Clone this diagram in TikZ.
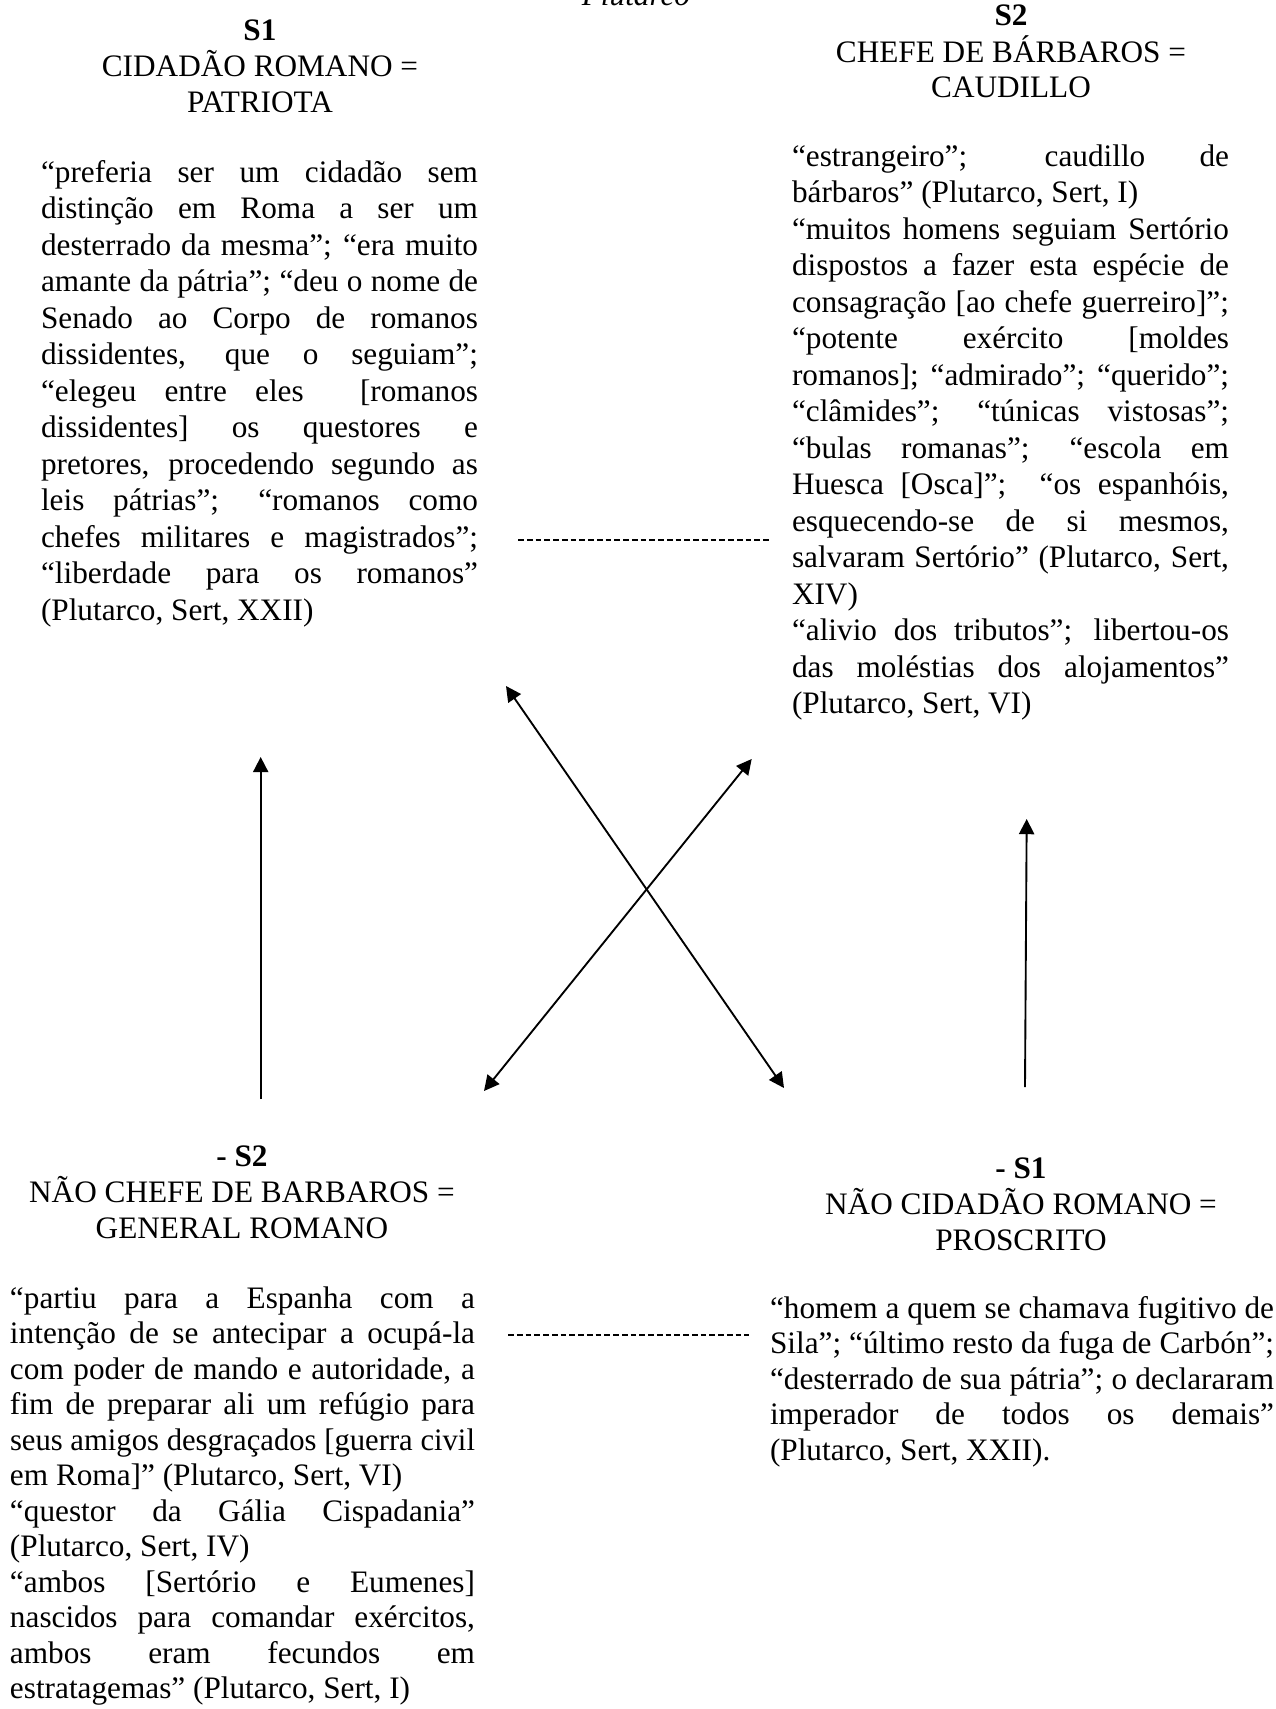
\documentclass[tikz,border=0pt]{standalone}
\usepackage{fontspec}
\setmainfont{Liberation Serif}
\usepackage{graphicx}
\usetikzlibrary{arrows.meta}
\newlength\bw
\newcommand\jl[1]{\setbox0\hbox{#1}\ifdim\wd0>\bw\resizebox{\bw}{\height}{#1}\else\makebox[\bw][s]{#1}\fi}
\newcommand\lastl[1]{\makebox[\bw][l]{#1}}
\newcommand\blk[2]{\setlength\bw{#1}\begin{tabular}[t]{@{}l@{}}#2\end{tabular}}
\newcommand\hdr[3]{\begin{tabular}[t]{@{}c@{}}\textbf{#1}\\#2\\#3\end{tabular}}
\tikzset{
  txt/.style={font=\fontsize{15}{17.04}\selectfont, inner sep=0pt, outer sep=0pt},
  body/.style={txt, anchor=base west},
  topbody/.style={body, font=\fontsize{15}{17.52}\selectfont},
  hd/.style={txt, anchor=base},
  arr/.style={line width=0.9pt, -{Triangle[length=7.3pt,width=7.3pt]}},
  dualarr/.style={line width=0.9pt, {Triangle[length=7.3pt,width=7.3pt]}-{Triangle[length=7.3pt,width=7.3pt]}},
  dashline/.style={line width=0.5pt, dash pattern=on 2.8pt off 1.4pt}
}
\begin{document}
\begin{tikzpicture}[x=0.48pt,y=-0.48pt]
\useasboundingbox (0,0) rectangle (1275,1709);
\fill[white] (0,0) rectangle (1275,1709);
\clip (0,0) rectangle (1275,1709);

\node[txt, anchor=base] (plut) at (636,5) {\textit{Plutarco}};

% headers
\node[hd] (s1) at (260,40) {\hdr{S1}{CIDADÃO ROMANO =}{PATRIOTA}};
\node[hd] (s2) at (1011,25) {\hdr{S2}{CHEFE DE BÁRBAROS =}{CAUDILLO}};
\node[hd] (ns2) at (242,1166) {\hdr{- S2}{NÃO CHEFE DE BARBAROS =}{GENERAL ROMANO}};
\node[hd] (ns1) at (1021,1178) {\hdr{- S1}{NÃO CIDADÃO ROMANO =}{PROSCRITO}};

% top-left body
\node[topbody] (tl) at (41,182) {\blk{209.76pt}{%
\jl{“preferia ser um cidadão sem}\\
\jl{distinção em Roma a ser um}\\
\jl{desterrado da mesma”; “era muito}\\
\jl{amante da pátria”; “deu o nome de}\\
\jl{Senado ao Corpo de romanos}\\
\jl{dissidentes, que o seguiam”;}\\
\jl{“elegeu entre eles\ \ [romanos}\\
\jl{dissidentes] os questores e}\\
\jl{pretores, procedendo segundo as}\\
\jl{leis pátrias”; “romanos como}\\
\jl{chefes militares e magistrados”;}\\
\jl{“liberdade para os romanos”}\\
\lastl{(Plutarco, Sert, XXII)}}};

% top-right body
\node[topbody] (tr) at (792,166) {\blk{209.76pt}{%
\jl{“estrangeiro”; caudillo de}\\
\lastl{bárbaros” (Plutarco, Sert, I)}\\
\jl{“muitos homens seguiam Sertório}\\
\jl{dispostos a fazer esta espécie de}\\
\jl{consagração [ao chefe guerreiro]”;}\\
\jl{“potente exército [moldes}\\
\jl{romanos]; “admirado”; “querido”;}\\
\jl{“clâmides”; “túnicas vistosas”;}\\
\jl{“bulas romanas”; “escola em}\\
\jl{Huesca [Osca]”;\ \ “os espanhóis,}\\
\jl{esquecendo-se de si mesmos,}\\
\jl{salvaram Sertório” (Plutarco, Sert,}\\
\lastl{XIV)}\\
\jl{“alivio dos tributos”; libertou-os}\\
\jl{das moléstias dos alojamentos”}\\
\lastl{(Plutarco, Sert, VI)}}};

% bottom-left body
\node[body] (bl) at (10,1308) {\blk{223.2pt}{%
\jl{“partiu para a Espanha com a}\\
\jl{intenção de se antecipar a ocupá-la}\\
\jl{com poder de mando e autoridade, a}\\
\jl{fim de preparar ali um refúgio para}\\
\jl{seus amigos desgraçados [guerra civil}\\
\lastl{em Roma]” (Plutarco, Sert, VI)}\\
\jl{“questor da Gália Cispadania”}\\
\lastl{(Plutarco, Sert, IV)}\\
\jl{“ambos [Sertório e Eumenes]}\\
\jl{nascidos para comandar exércitos,}\\
\jl{ambos eram fecundos em}\\
\lastl{estratagemas” (Plutarco, Sert, I)}}};

% bottom-right body
\node[body] (br) at (770,1318) {\blk{241.92pt}{%
\jl{“homem a quem se chamava fugitivo de}\\
\jl{Sila”; “último resto da fuga de Carbón”;}\\
\jl{“desterrado de sua pátria”; o declararam}\\
\jl{imperador de todos os demais”}\\
\lastl{(Plutarco, Sert, XXII).}}};

% dashed links
\coordinate (dt1) at (518,540);
\coordinate (dt2) at (770,540);
\coordinate (db1) at (508,1335);
\coordinate (db2) at (749,1335);
\draw[dashline] (dt1) -- (dt2);
\draw[dashline] (db1) -- (db2);

% arrows
\coordinate (la0) at (260.7,1099);
\coordinate (la1) at (260.7,757);
\coordinate (ra0) at (1025,1087);
\coordinate (ra1) at (1026.7,819);
\coordinate (da0) at (506,686);
\coordinate (da1) at (784,1088);
\coordinate (db0) at (751.7,759);
\coordinate (dbb) at (484,1091);
\draw[arr] (la0) -- (la1);
\draw[arr] (ra0) -- (ra1);
\draw[dualarr] (da0) -- (da1);
\draw[dualarr] (db0) -- (dbb);
\end{tikzpicture}
\end{document}
